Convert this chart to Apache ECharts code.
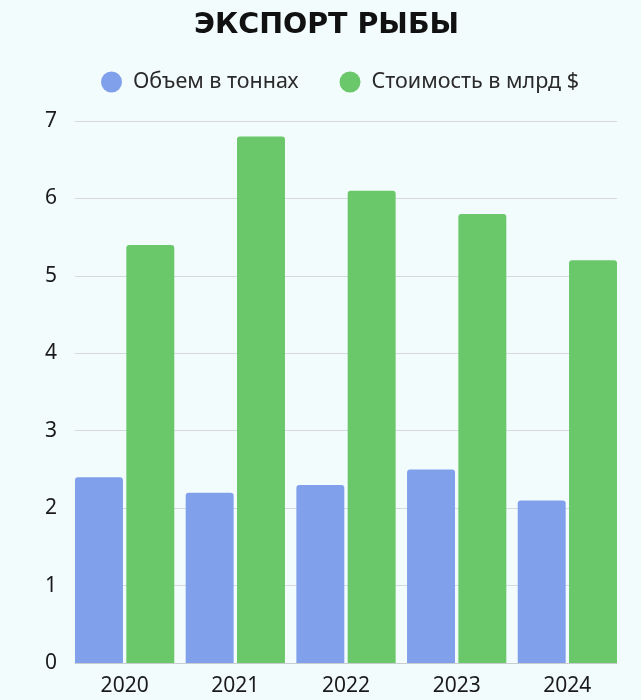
<!DOCTYPE html>
<html><head><meta charset="utf-8">
<script src="https://cdn.jsdelivr.net/npm/echarts@6/dist/echarts.min.js"></script>
<style>html,body{margin:0;padding:0;background:#f3fcfd}#c{width:641px;height:700px}</style>
</head><body><div id="c"></div>
<script>
const categories = ['2020','2021','2022','2023','2024'];
const volume = [2.4, 2.2, 2.3, 2.5, 2.1];
const cost = [5.4, 6.8, 6.1, 5.8, 5.2];
const seriesNames = ['Объем в тоннах', 'Стоимость в млрд $'];
const yTicks = {min: 0, max: 7, interval: 1};

const labelFont = {fontFamily: 'Noto Sans', fontSize: 21, color: '#1a1a1a'};
const chart = echarts.init(document.getElementById('c'));
chart.setOption({
  backgroundColor: '#f3fcfd',
  animation: false,
  title: {
    text: 'ЭКСПОРТ РЫБЫ', left: 189, top: 6,
    textStyle: {fontFamily: 'DejaVu Sans', fontWeight: 'bold', fontSize: 28.5, color: '#111'}
  },
  legend: {
    top: 66, left: 96, icon: 'circle', itemWidth: 21, itemHeight: 21, itemGap: 41,
    textStyle: {fontFamily: 'Noto Sans', fontSize: 21.5, color: '#2a2a2a', padding: [0,0,0,6]},
    data: seriesNames
  },
  grid: [
    {left: 69.3, right: 18.3, top: 121, bottom: 37},
    {left: 75, right: 24, top: 121, bottom: 37}
  ],
  xAxis: [
    {type: 'category', data: categories, gridIndex: 0,
     axisTick: {show: false}, axisLine: {show: false},
     axisLabel: Object.assign({margin: 13}, labelFont)},
    {type: 'category', data: categories, gridIndex: 1,
     axisTick: {show: false}, axisLabel: {show: false},
     axisLine: {lineStyle: {color: '#c8cdd0', width: 1}}}
  ],
  yAxis: [
    {type: 'value', gridIndex: 0, min: yTicks.min, max: yTicks.max, interval: yTicks.interval,
     show: false, splitLine: {show: false}},
    {type: 'value', gridIndex: 1, min: yTicks.min, max: yTicks.max, interval: yTicks.interval,
     axisLabel: Object.assign({margin: 18}, labelFont),
     splitLine: {lineStyle: {color: '#d6dadc', width: 1}},
     axisLine: {show: false}, axisTick: {show: false}}
  ],
  series: [
    {name: seriesNames[0], type: 'bar', data: volume, xAxisIndex: 0, yAxisIndex: 0,
     barGap: '7%', barCategoryGap: '10.3%',
     itemStyle: {color: '#80a0ec', borderRadius: [3,3,0,0]}},
    {name: seriesNames[1], type: 'bar', data: cost, xAxisIndex: 0, yAxisIndex: 0,
     itemStyle: {color: '#6ac76a', borderRadius: [3,3,0,0]}}
  ]
});
</script></body></html>
